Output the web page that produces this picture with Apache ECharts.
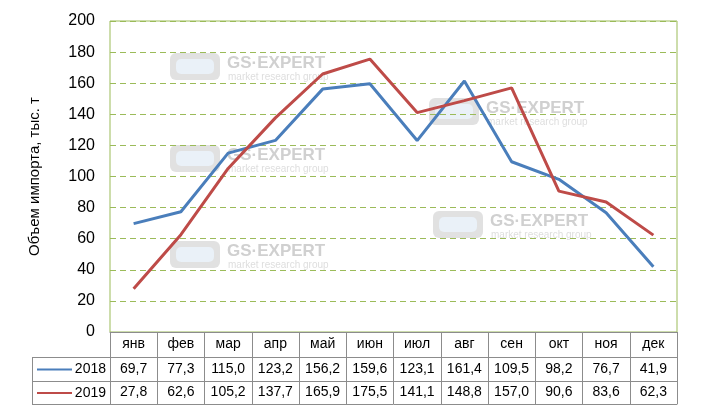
<!DOCTYPE html>
<html>
<head>
<meta charset="utf-8">
<script src="https://cdn.jsdelivr.net/npm/echarts@6/dist/echarts.min.js"></script>
<style>
  html, body { margin: 0; padding: 0; background: #fff; }
  #importChart { width: 720px; height: 414px; }
</style>
</head>
<body>
<div id="importChart"></div>
<script>
const months = ["янв", "фев", "мар", "апр", "май", "июн", "июл", "авг", "сен", "окт", "ноя", "дек"];
const imports2018 = [69.7, 77.3, 115.0, 123.2, 156.2, 159.6, 123.1, 161.4, 109.5, 98.2, 76.7, 41.9];
const imports2019 = [27.8, 62.6, 105.2, 137.7, 165.9, 175.5, 141.1, 148.8, 157.0, 90.6, 83.6, 62.3];
const seriesNames = ["2018", "2019"];
const yTicks = { min: 0, max: 200, step: 20 };

const FONT = "'Liberation Sans', Arial, sans-serif";
const GRID = { left: 110, top: 21, right: 43, bottom: 82 };
const ROW_H = [25, 24, 23]; // table rows: months, 2018, 2019
const TABLE_LEFT = 32;
const GRID_GREEN = "#9bbb59";
const TABLE_GRAY = "#8c8c8c";
const COLORS = ["#4a7ebb", "#be4b48"];

const fmt = v => v.toFixed(1).replace(".", ",");

const chart = echarts.init(document.getElementById("importChart"));

// one category axis per table row, stacked below the plot
function tableAxis(data, offset, tickLen) {
  return {
    type: "category",
    gridIndex: 0,
    position: "bottom",
    offset: offset,
    data: data,
    boundaryGap: true,
    axisLine: { show: true, lineStyle: { color: TABLE_GRAY, width: 1 } },
    axisTick: { show: tickLen > 0, length: tickLen, interval: 0, lineStyle: { color: TABLE_GRAY } },
    axisLabel: {
      show: data.some(d => d !== ""),
      interval: 0,
      margin: tickLen / 2,
      verticalAlign: "middle",
      color: "#000",
      fontSize: 14,
      fontFamily: FONT
    },
    splitLine: { show: false }
  };
}

// watermark "GS-EXPERT"
function watermark(x, y) {
  return {
    type: "group",
    x: x,
    y: y,
    z: -5,
    silent: true,
    children: [
      { type: "rect", shape: { x: 0, y: 0, width: 50, height: 27, r: 6 }, style: { fill: "#dadada", opacity: 0.8 } },
      { type: "rect", shape: { x: 6, y: 6, width: 38, height: 15, r: 5 }, style: { fill: "#eaf1f8" } },
      { type: "text", x: 57, y: 2, style: { text: "GS·EXPERT", fontSize: 17, fontWeight: "bold", fontFamily: FONT, fill: "#d0d0d0" } },
      { type: "text", x: 58, y: 19, style: { text: "market research group", fontSize: 10, fontFamily: FONT, fill: "#dedede" } }
    ]
  };
}

// left column of the table (legend cells)
const tableTop = 414 - GRID.bottom;
const rowLines = [tableTop + ROW_H[0], tableTop + ROW_H[0] + ROW_H[1], tableTop + ROW_H[0] + ROW_H[1] + ROW_H[2]];
const tableGraphics = rowLines.map(y => ({
  type: "line", silent: true,
  shape: { x1: TABLE_LEFT, y1: y + 0.5, x2: GRID.left, y2: y + 0.5 },
  style: { stroke: TABLE_GRAY, lineWidth: 1 }
}));
tableGraphics.push({
  type: "line", silent: true,
  shape: { x1: TABLE_LEFT + 0.5, y1: rowLines[0], x2: TABLE_LEFT + 0.5, y2: rowLines[2] },
  style: { stroke: TABLE_GRAY, lineWidth: 1 }
});
seriesNames.forEach((name, i) => {
  const cy = (rowLines[i] + rowLines[i + 1]) / 2 + 0.5;
  tableGraphics.push({
    type: "line", silent: true,
    shape: { x1: TABLE_LEFT + 5, y1: cy, x2: TABLE_LEFT + 40, y2: cy },
    style: { stroke: COLORS[i], lineWidth: 2 }
  });
  tableGraphics.push({
    type: "text", silent: true, x: GRID.left - 4, y: cy,
    style: { text: name, fontSize: 14, fontFamily: FONT, fill: "#000", align: "right", verticalAlign: "middle" }
  });
});

const option = {
  animation: false,
  textStyle: { fontFamily: FONT },
  color: COLORS,
  grid: {
    left: GRID.left, top: GRID.top, right: GRID.right, bottom: GRID.bottom,
    show: true, borderColor: GRID_GREEN, borderWidth: 1, containLabel: false
  },
  xAxis: [
    tableAxis(months, 0, ROW_H[0]),
    tableAxis(imports2018.map(fmt), ROW_H[0], ROW_H[1]),
    tableAxis(imports2019.map(fmt), ROW_H[0] + ROW_H[1], ROW_H[2]),
    tableAxis(months.map(() => ""), ROW_H[0] + ROW_H[1] + ROW_H[2], 0)
  ],
  yAxis: {
    type: "value",
    min: yTicks.min,
    max: yTicks.max,
    interval: yTicks.step,
    name: "Объем импорта, тыс. т",
    nameLocation: "middle",
    nameGap: 68,
    nameTextStyle: { fontSize: 15, color: "#000", fontFamily: FONT },
    axisLine: { show: false },
    axisTick: { show: false },
    axisLabel: { fontSize: 16, color: "#000", margin: 15, fontFamily: FONT },
    splitLine: { lineStyle: { color: GRID_GREEN, type: [6, 4], width: 1 } }
  },
  series: [
    {
      name: seriesNames[0], type: "line", data: imports2018, xAxisIndex: 0,
      symbol: "none", lineStyle: { width: 3 }, z: 3
    },
    {
      name: seriesNames[1], type: "line", data: imports2019, xAxisIndex: 0,
      symbol: "none", lineStyle: { width: 3 }, z: 4
    }
  ],
  graphic: [
    watermark(170, 53),
    watermark(429, 98),
    watermark(170, 145),
    watermark(433, 211),
    watermark(170, 241)
  ].concat(tableGraphics)
};

chart.setOption(option);
</script>
</body>
</html>
